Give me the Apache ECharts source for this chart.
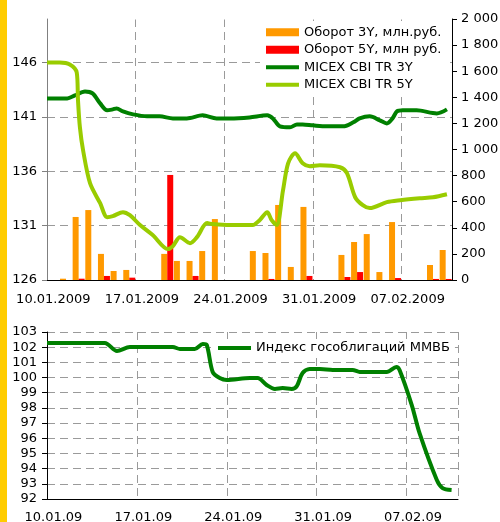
<!DOCTYPE html>
<html>
<head>
<meta charset="utf-8">
<script src="https://cdn.jsdelivr.net/npm/echarts@6/dist/echarts.min.js"></script>
<style>
html, body { margin: 0; padding: 0; background: #fff; }
#chart { width: 500px; height: 522px; }
</style>
</head>
<body>
<div id="chart"></div>
<script>
// calendar days 10.01.2009 .. 10.02.2009
const dates = [
  '10.01.2009', '11.01.2009', '12.01.2009', '13.01.2009', '14.01.2009', '15.01.2009', '16.01.2009',
  '17.01.2009', '18.01.2009', '19.01.2009', '20.01.2009', '21.01.2009', '22.01.2009', '23.01.2009',
  '24.01.2009', '25.01.2009', '26.01.2009', '27.01.2009', '28.01.2009', '29.01.2009', '30.01.2009',
  '31.01.2009', '01.02.2009', '02.02.2009', '03.02.2009', '04.02.2009', '05.02.2009', '06.02.2009',
  '07.02.2009', '08.02.2009', '09.02.2009', '10.02.2009'
];

// оборот, млн.руб. (правая ось)
const turnover3Y = [
  null, 10, 483, 536, 200, 69, 77,
  null, null, 200, 146, 146, 222, 467,
  null, null, 222, 207, 575, 100, 560,
  null, null, 192, 291, 352, 61, 444,
  null, null, 115, 230
];
const turnover5Y = [
  null, null, 10, null, 31, null, 18,
  null, null, 805, null, 31, null, null,
  null, null, null, 8, null, null, 31,
  null, null, 23, 61, null, null, 15,
  null, null, 8, 8
];

// индексы: [день от 10.01, значение]
const cbi3Y = [
  [0, 142.7], [1.6, 142.7], [2.2, 142.97], [3.0, 143.34], [3.6, 143.16], [4.2, 142.24],
  [4.75, 141.6], [5.2, 141.69], [5.5, 141.78], [6.0, 141.5], [6.8, 141.23], [7.9, 141.05],
  [8.9, 141.05], [9.95, 140.86], [11.05, 140.86], [12.3, 141.14], [13.4, 140.86], [14.45, 140.86],
  [16.0, 140.95], [17.4, 141.14], [17.85, 140.86], [18.4, 140.13], [19.2, 140.04], [19.75, 140.31],
  [20.2, 140.31], [21.0, 140.22], [22.1, 140.13], [23.4, 140.13], [24.2, 140.5], [24.7, 140.86],
  [25.5, 141.05], [26.3, 140.68], [26.85, 140.4], [27.3, 140.86], [27.65, 141.5], [28.1, 141.6],
  [29.2, 141.6], [30.8, 141.32], [31.6, 141.69]
];
const cbi5Y = [
  [0, 146.0], [1.0, 146.0], [1.8, 145.82], [2.35, 145.08], [2.45, 142.51], [2.6, 140.04],
  [2.85, 137.93], [3.4, 134.9], [4.2, 133.06], [4.75, 131.78], [5.2, 131.87], [6.0, 132.24],
  [6.55, 131.96], [7.35, 131.05], [8.35, 130.13], [9.55, 128.84], [9.95, 129.12], [10.5, 129.94],
  [11.3, 129.39], [11.85, 129.94], [12.65, 131.23], [13.1, 131.14], [14.45, 131.05], [16.25, 131.05],
  [16.8, 131.5], [17.4, 132.24], [17.75, 131.5], [18.15, 131.05], [18.65, 134.26], [19.05, 136.73],
  [19.6, 137.65], [20.2, 136.73], [20.75, 136.46], [21.55, 136.55], [23.15, 136.37], [23.7, 135.82],
  [24.35, 133.61], [24.95, 132.88], [25.5, 132.61], [26.85, 133.16], [27.9, 133.34], [29.45, 133.52],
  [30.5, 133.61], [31.6, 133.89]
];
const bondIndex = [
  [0, 102.28], [4.5, 102.28], [5.45, 101.75], [6.45, 102.01], [9.8, 102.01], [10.35, 101.88],
  [11.5, 101.88], [12.13, 102.21], [12.44, 102.14], [12.9, 100.37], [13.45, 99.97], [14.0, 99.84],
  [15.8, 99.97], [16.4, 99.97], [17.1, 99.51], [17.75, 99.25], [18.35, 99.31], [19.05, 99.25],
  [19.45, 99.44], [19.9, 100.3], [20.45, 100.56], [21.25, 100.56], [22.25, 100.5], [23.8, 100.5],
  [24.35, 100.37], [26.45, 100.37], [27.2, 100.7], [27.45, 100.5], [28.4, 98.19], [29.0, 96.35],
  [30.35, 93.25], [30.8, 92.72], [31.5, 92.59]
];

const leftTicks = [126, 131, 136, 141, 146];

const font = 'DejaVu Sans';
const dashed = () => ({ color: '#9a9a9a', width: 1, type: [8, 5] });
const lineIcon = 'path://M0,0 H33 V4 H0 Z';
// скрытая ось дней для линий
const dayAxis = () => ({
  type: 'value', min: 0, max: 32, show: false, position: 'bottom',
  axisLine: { show: false }, axisTick: { show: false },
  axisLabel: { show: false }, splitLine: { show: false }
});

function thousands(v) {
  if (v >= 1000) return Math.floor(v / 1000) + ' ' + String(v % 1000).padStart(3, '0');
  return String(v);
}

const chart = echarts.init(document.getElementById('chart'));
chart.setOption({
  animation: false,
  backgroundColor: '#fff',
  textStyle: { fontFamily: font },
  graphic: [
    {
      type: 'rect', left: 0, top: 0, shape: { width: 7, height: 522 },
      style: { fill: '#FFCC00' }, silent: true
    },
    {
      // убрать верхнюю линию над областью графика
      type: 'rect', left: 48, top: 4, zlevel: 1, z: 100, shape: { width: 403.5, height: 15.6 },
      style: { fill: '#fff' }, silent: true
    }
  ],
  grid: [
    { left: 47, top: 19, width: 405, height: 261, containLabel: false, outerBoundsMode: 'none' },
    { left: 47, top: 332, width: 411, height: 167, containLabel: false, outerBoundsMode: 'none' }
  ],
  legend: [
    {
      orient: 'vertical', left: 260, top: 21, padding: [4, 6], itemGap: 3,
      itemWidth: 33, itemHeight: 8, backgroundColor: '#fff',
      textStyle: { fontSize: 13, color: '#000', fontFamily: font, lineHeight: 14.5 },
      data: [
        { name: 'Оборот 3Y, млн.руб.', icon: 'rect' },
        { name: 'Оборот 5Y, млн руб.', icon: 'rect' },
        { name: 'MICEX CBI TR 3Y', icon: lineIcon, itemStyle: { borderWidth: 0 } },
        { name: 'MICEX CBI TR 5Y', icon: lineIcon, itemStyle: { borderWidth: 0 } }
      ]
    },
    {
      orient: 'vertical', left: 213, top: 339, padding: [2, 5],
      itemWidth: 33, itemHeight: 8, backgroundColor: '#fff',
      textStyle: { fontSize: 13, color: '#000', fontFamily: font, lineHeight: 14 },
      data: [{ name: 'Индекс гособлигаций ММВБ', icon: lineIcon, itemStyle: { borderWidth: 0 } }]
    }
  ],
  xAxis: [
    {
      gridIndex: 0, type: 'category', data: dates, boundaryGap: true,
      axisLine: { lineStyle: { color: '#000', width: 1 } },
      axisTick: { interval: 6, length: 5, lineStyle: { color: '#000' } },
      axisLabel: { interval: 6, margin: 13, fontSize: 13, color: '#000', fontFamily: font },
      splitLine: { show: true, interval: 6, lineStyle: dashed() }
    },
    Object.assign({ gridIndex: 0 }, dayAxis()),
    {
      gridIndex: 1, type: 'category', data: dates, boundaryGap: true,
      axisLine: { lineStyle: { color: '#000', width: 1 } },
      axisTick: { interval: 6, length: 5, lineStyle: { color: '#000' } },
      axisLabel: {
        interval: 6, margin: 12, fontSize: 13, color: '#000', fontFamily: font,
        formatter: d => d.slice(0, 6) + d.slice(8)
      },
      splitLine: { show: true, interval: 6, lineStyle: dashed() }
    },
    Object.assign({ gridIndex: 1 }, dayAxis())
  ],
  yAxis: [
    {
      gridIndex: 0, type: 'value', position: 'left', min: 126, max: 150,
      axisLine: { show: true, lineStyle: { color: '#808080', width: 1 } },
      axisTick: { show: true, length: 5, customValues: leftTicks, lineStyle: { color: '#808080' } },
      axisLabel: { customValues: leftTicks, margin: 10, fontSize: 13, color: '#000', fontFamily: font },
      splitLine: { show: true, lineStyle: dashed() }
    },
    {
      gridIndex: 0, type: 'value', position: 'right', min: 0, max: 2000, interval: 200,
      axisLine: { show: true, lineStyle: { color: '#000', width: 1 } },
      axisTick: { show: true, length: 5, lineStyle: { color: '#000' } },
      axisLabel: { margin: 9, fontSize: 13, color: '#000', fontFamily: font, formatter: thousands },
      splitLine: { show: false }
    },
    {
      gridIndex: 1, type: 'value', min: 92, max: 103, interval: 1,
      axisLine: { show: true, lineStyle: { color: '#000', width: 1 } },
      axisTick: { show: true, length: 5, lineStyle: { color: '#000' } },
      axisLabel: { margin: 10, fontSize: 13, color: '#000', fontFamily: font },
      splitLine: { show: true, lineStyle: dashed() }
    }
  ],
  series: [
    {
      name: 'Оборот 3Y, млн.руб.', type: 'bar', xAxisIndex: 0, yAxisIndex: 1,
      data: turnover3Y, barWidth: 6, barGap: '0%', color: '#FF9900'
    },
    {
      name: 'Оборот 5Y, млн руб.', type: 'bar', xAxisIndex: 0, yAxisIndex: 1,
      data: turnover5Y, barWidth: 6, barGap: '0%', color: '#FF0000'
    },
    {
      name: 'MICEX CBI TR 3Y', type: 'line', xAxisIndex: 1, yAxisIndex: 0,
      data: cbi3Y, smooth: 0.3, symbol: 'none', color: '#008000',
      lineStyle: { width: 4, color: '#008000' }
    },
    {
      name: 'MICEX CBI TR 5Y', type: 'line', xAxisIndex: 1, yAxisIndex: 0,
      data: cbi5Y, smooth: 0.3, symbol: 'none', color: '#99CC00',
      lineStyle: { width: 4, color: '#99CC00' }
    },
    {
      name: 'Индекс гособлигаций ММВБ', type: 'line', xAxisIndex: 3, yAxisIndex: 2,
      data: bondIndex, smooth: 0.3, symbol: 'none', color: '#008000',
      lineStyle: { width: 4, color: '#008000' }
    }
  ]
});
</script>
</body>
</html>
